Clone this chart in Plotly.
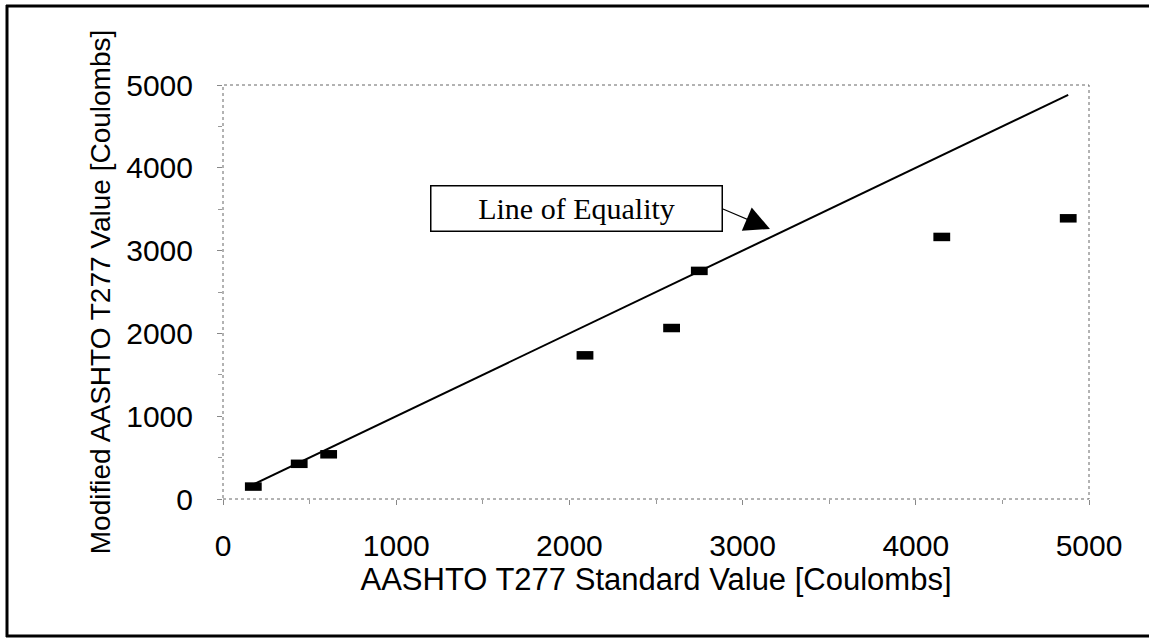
import plotly.graph_objects as go

# Data
standard_values = [175, 440, 610, 2090, 2590, 2750, 4150, 4880]
modified_values = [150, 425, 540, 1735, 2065, 2755, 3165, 3390]
equality_x = [175, 4880]
equality_y = [175, 4880]
tick_vals = [0, 1000, 2000, 3000, 4000, 5000]
tick_text = ["0", "1000", "2000", "3000", "4000", "5000"]

W, H = 1149, 638
L, R, T, B = 223, 60, 85, 139
pw, ph = W - L - R, H - T - B


def px_x(p):
    return (p - L) / pw


def px_y(p):
    return (H - B - p) / ph


fig = go.Figure()
fig.add_trace(go.Scatter(
    x=equality_x, y=equality_y, mode="lines",
    line=dict(color="black", width=2), showlegend=False, hoverinfo="skip"))
fig.add_trace(go.Scatter(
    x=standard_values, y=modified_values, mode="markers",
    marker=dict(symbol="line-ew", size=12, color="black",
                line=dict(color="black", width=8.5)),
    showlegend=False))

tick_font = dict(family="Liberation Sans, Arial", size=30, color="black")
common = dict(range=[0, 5000], tickvals=tick_vals, ticktext=tick_text,
              showgrid=False, zeroline=False, showline=False,
              ticks="outside", ticklen=5, tickcolor="#888", tickwidth=1,
              minor=dict(ticks="outside", dtick=500, ticklen=4, tickcolor="#999"),
              tickfont=tick_font)

fig.update_xaxes(**common, ticklabelstandoff=15,
                 title=dict(text="AASHTO T277 Standard Value [Coulombs]",
                            font=dict(family="Liberation Sans, Arial", size=31, color="black"),
                            standoff=6))
fig.update_yaxes(**common, ticklabelstandoff=18,
                 title=dict(text="Modified AASHTO T277 Value [Coulombs]",
                            font=dict(family="Liberation Sans, Arial", size=28, color="black"),
                            standoff=7))

# dotted plot-area frame
fig.add_shape(type="rect", xref="paper", yref="paper", x0=0, y0=0, x1=1, y1=1,
              line=dict(color="#666", width=1, dash="dot"), layer="below")

# outer figure frame: left edge only, top/bottom drawn as thin rects
fig.add_shape(type="line", xref="paper", yref="paper",
              x0=px_x(7), x1=px_x(7), y0=px_y(5), y1=px_y(637),
              line=dict(color="black", width=3))
fig.add_shape(type="rect", xref="paper", yref="paper",
              x0=px_x(6), x1=px_x(1149), y0=px_y(4.5), y1=px_y(7.5),
              line=dict(width=0), fillcolor="black")
fig.add_shape(type="rect", xref="paper", yref="paper",
              x0=px_x(6), x1=px_x(1149), y0=px_y(634.5), y1=px_y(637.5),
              line=dict(width=0), fillcolor="black")

fig.add_annotation(
    x=3158, y=3261, xref="x", yref="y",
    text="Line of Equality", showarrow=True,
    ax=-47, ay=-20, xanchor="right", yanchor="middle",
    arrowhead=2, arrowsize=4.2, arrowwidth=1.2, arrowcolor="black",
    font=dict(family="Liberation Serif, Times New Roman", size=30, color="black"),
    bordercolor="black", borderwidth=1.5, borderpad=1,
    bgcolor="white", width=288, height=42)

fig.update_layout(
    width=W, height=H,
    margin=dict(l=L, r=R, t=T, b=B),
    paper_bgcolor="white", plot_bgcolor="white",
    showlegend=False)

fig.write_html("out.html",
               config={"displayModeBar": False},
               post_script="document.body.style.margin='0';document.body.style.overflow='hidden';")
